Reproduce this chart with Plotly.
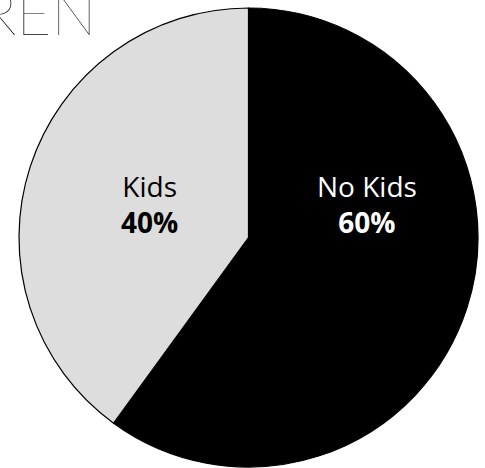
import plotly.graph_objects as go

# Share of respondents with and without children
labels = ["No Kids", "Kids"]
values = [60, 40]
colors = ["#000000", "#dddddd"]
text_colors = ["#ffffff", "#000000"]
label_x = [0.757, 0.309]   # paper x of each slice label
label_y = 0.565            # paper y of the label block centre

W, H = 485, 468
cx, cy, r = 248.5, 237.5, 229.5

fig = go.Figure(go.Pie(
    labels=labels,
    values=values,
    sort=False,
    direction="clockwise",
    rotation=0,
    marker=dict(colors=colors, line=dict(color="#000000", width=1.2)),
    textinfo="none",
    hoverinfo="label+percent",
    showlegend=False,
    domain=dict(x=[(cx - r) / W, (cx + r) / W],
                y=[(H - cy - r) / H, (H - cy + r) / H]),
))

total = sum(values)
annotations = []
for lab, val, tc, lx in zip(labels, values, text_colors, label_x):
    pct = round(100 * val / total)
    annotations.append(dict(
        text=f"{lab}<br><b>{pct}%</b>",
        x=lx, y=label_y, xref="paper", yref="paper",
        xanchor="center", yanchor="middle", showarrow=False,
        font=dict(family="Open Sans", size=28, color=tc),
    ))

# Heading, partly running off the top-left edge
annotations.append(dict(
    text="CHILDREN",
    x=98 / W, y=(H - 50) / H, xref="paper", yref="paper",
    xanchor="right", yanchor="bottom", showarrow=False,
    font=dict(family="Lato", size=60, color="#000000", weight=100),
))

fig.update_layout(
    width=W, height=H,
    margin=dict(l=0, r=0, t=0, b=0),
    paper_bgcolor="#ffffff",
    plot_bgcolor="#ffffff",
    annotations=annotations,
)

fig.write_html("out.html")
